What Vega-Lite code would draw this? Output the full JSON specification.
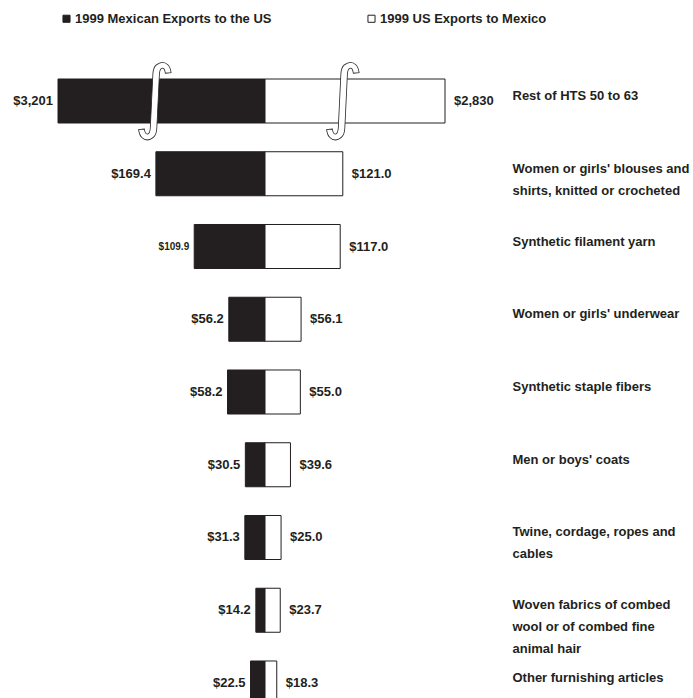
{
  "$schema": "https://vega.github.io/schema/vega-lite/v6.json",
  "width": 514,
  "height": 698,
  "autosize": {"type": "none"},
  "padding": {"left": 0, "top": 0, "right": 179, "bottom": 0},
  "background": "white",
  "config": {
    "view": {"stroke": null},
    "font": "Liberation Sans",
    "text": {"font": "Liberation Sans", "fontWeight": "bold", "fontSize": 13, "color": "#231f20"}
  },
  "data": {
    "values": [
      {"category": "Rest of HTS 50 to 63", "series": "1999 Mexican Exports to the US", "value": 3201, "label": "$3,201"},
      {"category": "Rest of HTS 50 to 63", "series": "1999 US Exports to Mexico", "value": 2830, "label": "$2,830"},
      {"category": "Women or girls' blouses and\nshirts, knitted or crocheted", "series": "1999 Mexican Exports to the US", "value": 169.4, "label": "$169.4"},
      {"category": "Women or girls' blouses and\nshirts, knitted or crocheted", "series": "1999 US Exports to Mexico", "value": 121.0, "label": "$121.0"},
      {"category": "Synthetic filament yarn", "series": "1999 Mexican Exports to the US", "value": 109.9, "label": "$109.9"},
      {"category": "Synthetic filament yarn", "series": "1999 US Exports to Mexico", "value": 117.0, "label": "$117.0"},
      {"category": "Women or girls' underwear", "series": "1999 Mexican Exports to the US", "value": 56.2, "label": "$56.2"},
      {"category": "Women or girls' underwear", "series": "1999 US Exports to Mexico", "value": 56.1, "label": "$56.1"},
      {"category": "Synthetic staple fibers", "series": "1999 Mexican Exports to the US", "value": 58.2, "label": "$58.2"},
      {"category": "Synthetic staple fibers", "series": "1999 US Exports to Mexico", "value": 55.0, "label": "$55.0"},
      {"category": "Men or boys' coats", "series": "1999 Mexican Exports to the US", "value": 30.5, "label": "$30.5"},
      {"category": "Men or boys' coats", "series": "1999 US Exports to Mexico", "value": 39.6, "label": "$39.6"},
      {"category": "Twine, cordage, ropes and\ncables", "series": "1999 Mexican Exports to the US", "value": 31.3, "label": "$31.3"},
      {"category": "Twine, cordage, ropes and\ncables", "series": "1999 US Exports to Mexico", "value": 25.0, "label": "$25.0"},
      {"category": "Woven fabrics of combed\nwool or of combed fine\nanimal hair", "series": "1999 Mexican Exports to the US", "value": 14.2, "label": "$14.2"},
      {"category": "Woven fabrics of combed\nwool or of combed fine\nanimal hair", "series": "1999 US Exports to Mexico", "value": 23.7, "label": "$23.7"},
      {"category": "Other furnishing articles", "series": "1999 Mexican Exports to the US", "value": 22.5, "label": "$22.5"},
      {"category": "Other furnishing articles", "series": "1999 US Exports to Mexico", "value": 18.3, "label": "$18.3"}
    ]
  },
  "encoding": {
    "y": {
      "field": "category",
      "type": "nominal",
      "sort": null,
      "scale": {"range": [79, 705], "paddingInner": 0.395, "paddingOuter": 0},
      "axis": {
        "orient": "right",
        "title": null,
        "domain": false,
        "ticks": false,
        "labelPadding": -2,
        "labelFont": "Liberation Sans",
        "labelFontSize": 13,
        "labelFontWeight": "bold",
        "labelColor": "#231f20",
        "labelLineHeight": 22,
        "labelLimit": 300,
        "labelAlign": "left",
        "labelOffset": -5,
        "labelExpr": "split(datum.label, '\\n')"
      }
    }
  },
  "layer": [
    {
      "transform": [{"filter": "datum.series === '1999 Mexican Exports to the US'"}],
      "mark": {"type": "bar", "stroke": "#231f20", "strokeWidth": 1},
      "encoding": {
        "x": {"field": "value", "type": "quantitative", "scale": {"domain": [0, 321.4], "range": [265, 58], "clamp": true, "zero": true, "nice": false}, "axis": null},
        "color": {
          "field": "series", "type": "nominal",
          "scale": {"domain": ["1999 Mexican Exports to the US", "1999 US Exports to Mexico"], "range": ["#231f20", "#ffffff"]},
          "legend": {
            "orient": "none", "legendX": 60, "legendY": 12, "direction": "horizontal", "title": null,
            "symbolType": "square", "symbolSize": 50, "symbolStrokeColor": "#231f20", "symbolStrokeWidth": 1,
            "labelFont": "Liberation Sans", "labelFontSize": 13, "labelFontWeight": "bold", "labelColor": "#231f20",
            "labelOffset": 2, "labelLimit": 400, "columnPadding": 93
          }
        }
      }
    },
    {
      "transform": [{"filter": "datum.series === '1999 US Exports to Mexico'"}],
      "mark": {"type": "bar", "stroke": "#231f20", "strokeWidth": 1},
      "encoding": {
        "x": {"field": "value", "type": "quantitative", "scale": {"domain": [0, 280], "range": [265, 445], "clamp": true, "zero": true, "nice": false}, "axis": null},
        "color": {"field": "series", "type": "nominal"}
      }
    },
    {
      "transform": [{"filter": "datum.series === '1999 Mexican Exports to the US'"}],
      "mark": {"type": "text", "align": "right", "baseline": "middle", "dx": -5},
      "encoding": {
        "x": {"field": "value", "type": "quantitative", "scale": {"domain": [0, 321.4], "range": [265, 58], "clamp": true, "zero": true, "nice": false}, "axis": null},
        "text": {"field": "label"},
        "size": {"condition": {"test": "datum.value === 109.9", "value": 10}, "value": 13}
      }
    },
    {
      "transform": [{"filter": "datum.series === '1999 US Exports to Mexico'"}],
      "mark": {"type": "text", "align": "left", "baseline": "middle", "dx": 9},
      "encoding": {
        "x": {"field": "value", "type": "quantitative", "scale": {"domain": [0, 280], "range": [265, 445], "clamp": true, "zero": true, "nice": false}, "axis": null},
        "text": {"field": "label"}
      }
    },
    {
      "transform": [{"filter": "datum.series === '1999 Mexican Exports to the US' && datum.value > 1000"}],
      "mark": {"type": "text", "text": "∫", "font": "DejaVu Sans", "fontWeight": "normal", "fontSize": 80, "fill": "white", "stroke": "#231f20", "strokeWidth": 0.8, "align": "center", "baseline": "middle", "dy": -2},
      "encoding": {
        "x": {"datum": 171, "type": "quantitative", "scale": {"domain": [0, 321.4], "range": [265, 58], "clamp": true, "zero": true, "nice": false}, "axis": null}
      }
    },
    {
      "transform": [{"filter": "datum.series === '1999 US Exports to Mexico' && datum.value > 1000"}],
      "mark": {"type": "text", "text": "∫", "font": "DejaVu Sans", "fontWeight": "normal", "fontSize": 80, "fill": "white", "stroke": "#231f20", "strokeWidth": 0.8, "align": "center", "baseline": "middle", "dy": -2},
      "encoding": {
        "x": {"datum": 121, "type": "quantitative", "scale": {"domain": [0, 280], "range": [265, 445], "clamp": true, "zero": true, "nice": false}, "axis": null}
      }
    }
  ],
  "resolve": {"scale": {"x": "independent"}}
}
